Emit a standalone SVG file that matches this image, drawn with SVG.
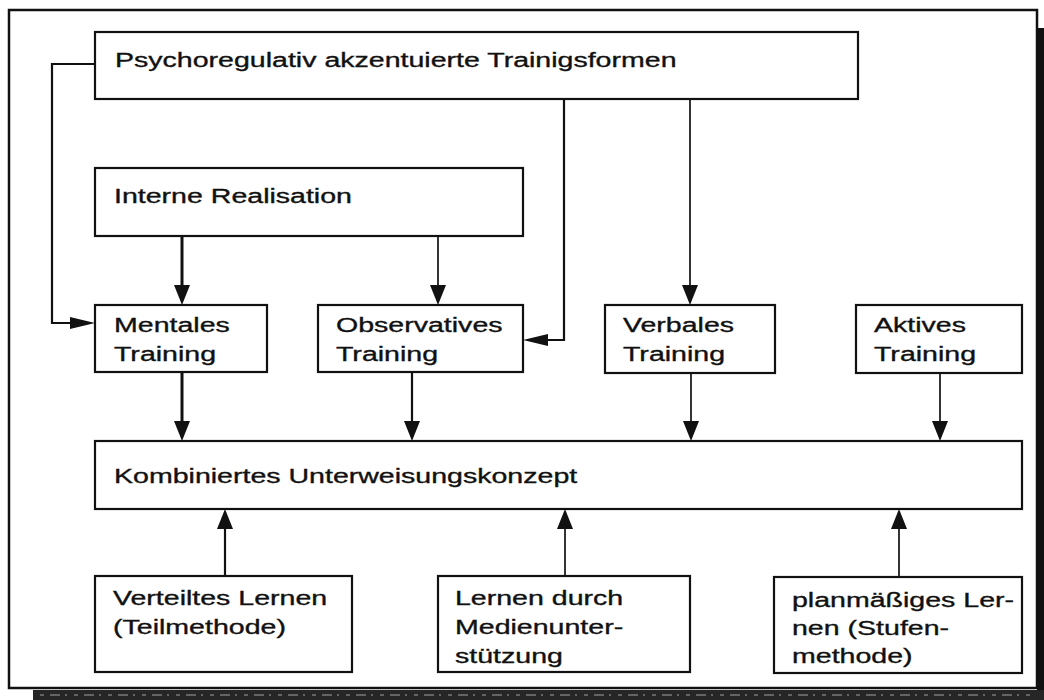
<svg xmlns="http://www.w3.org/2000/svg" width="1044" height="700" viewBox="0 0 1044 700">
  <style>
    .box { fill: #ffffff; stroke: #111111; stroke-width: 2.2; }
    .t { font-family: "Liberation Sans", Arial, Helvetica, sans-serif; font-size: 21px; fill: #111111; stroke: #111111; stroke-width: 0.35; }
    .c { fill: none; stroke: #111111; stroke-linejoin: miter; }
    .thin { stroke-width: 1.7; }
    .mid { stroke-width: 2.2; }
    .thick { stroke-width: 3; }
  </style>
  <defs>
    <!-- vertical arrowhead: 20 long, 16 wide, tip 10 past the line end -->
    <marker id="ah-v" markerUnits="userSpaceOnUse" viewBox="0 0 20 16" markerWidth="20" markerHeight="16" refX="10" refY="8" orient="auto">
      <path d="M0,0 L20,8 L0,16 Z" fill="#111111"/>
    </marker>
    <!-- horizontal arrowhead: 25 long, 12 wide, tip 12 past the line end -->
    <marker id="ah-h" markerUnits="userSpaceOnUse" viewBox="0 0 25 12" markerWidth="25" markerHeight="12" refX="13" refY="6" orient="auto">
      <path d="M0,0 L25,6 L0,12 Z" fill="#111111"/>
    </marker>
  </defs>

  <rect width="1044" height="700" fill="#ffffff"/>

  <!-- page frame with shadow edges -->
  <g id="frame">
    <rect x="9" y="10" width="1028" height="678" fill="none" stroke="#111111" stroke-width="2.5"/>
    <rect x="1037" y="28" width="7" height="672" fill="#111111"/>
    <rect x="33" y="690" width="1011" height="10" fill="#262626"/>
    <line x1="40" y1="695" x2="1030" y2="695" stroke="#7a7a7a" stroke-width="1.5" stroke-dasharray="4 6 10 5 2 7"/>
  </g>

  <!-- connectors -->
  <g id="connectors">
    <path class="c mid" d="M95,64 H52 V323 H83" marker-end="url(#ah-h)"/>
    <path class="c mid" d="M564,99 V340 H535" marker-end="url(#ah-h)"/>
    <path class="c thin" d="M690,99 V295" marker-end="url(#ah-v)"/>
    <path class="c thick" d="M182,236 V295" marker-end="url(#ah-v)"/>
    <path class="c thin" d="M438,236 V295" marker-end="url(#ah-v)"/>
    <path class="c thick" d="M182,372 V431" marker-end="url(#ah-v)"/>
    <path class="c mid" d="M412,372 V431" marker-end="url(#ah-v)"/>
    <path class="c thin" d="M691,373 V431" marker-end="url(#ah-v)"/>
    <path class="c thin" d="M940,373 V431" marker-end="url(#ah-v)"/>
    <path class="c mid" d="M225,576 V519" marker-end="url(#ah-v)"/>
    <path class="c thin" d="M565,576 V519" marker-end="url(#ah-v)"/>
    <path class="c thin" d="M899,576 V519" marker-end="url(#ah-v)"/>
  </g>

  <!-- labels use a horizontally widened face: scale(1.36 1) -->
  <g id="psychoregulativ">
    <rect class="box" x="95" y="32" width="763" height="67"/>
    <text class="t" transform="translate(115 67) scale(1.36 1)">Psychoregulativ akzentuierte Trainigsformen</text>
  </g>

  <g id="interne-realisation">
    <rect class="box" x="95" y="168" width="428" height="68"/>
    <text class="t" transform="translate(114 203) scale(1.36 1)">Interne Realisation</text>
  </g>

  <g id="mentales-training">
    <rect class="box" x="95" y="305" width="172" height="67"/>
    <text class="t" transform="translate(114 332) scale(1.36 1)">Mentales</text>
    <text class="t" transform="translate(114 361) scale(1.36 1)">Training</text>
  </g>

  <g id="observatives-training">
    <rect class="box" x="318" y="305" width="205" height="67"/>
    <text class="t" transform="translate(336 332) scale(1.36 1)">Observatives</text>
    <text class="t" transform="translate(336 361) scale(1.36 1)">Training</text>
  </g>

  <g id="verbales-training">
    <rect class="box" x="605" y="305" width="170" height="68"/>
    <text class="t" transform="translate(623 332) scale(1.36 1)">Verbales</text>
    <text class="t" transform="translate(623 361) scale(1.36 1)">Training</text>
  </g>

  <g id="aktives-training">
    <rect class="box" x="856" y="305" width="166" height="68"/>
    <text class="t" transform="translate(874 332) scale(1.36 1)">Aktives</text>
    <text class="t" transform="translate(874 361) scale(1.36 1)">Training</text>
  </g>

  <g id="kombiniertes-konzept">
    <rect class="box" x="95" y="441" width="927" height="68"/>
    <text class="t" transform="translate(114 483) scale(1.36 1)">Kombiniertes Unterweisungskonzept</text>
  </g>

  <g id="verteiltes-lernen">
    <rect class="box" x="95" y="576" width="257" height="96"/>
    <text class="t" transform="translate(113 605) scale(1.36 1)">Verteiltes Lernen</text>
    <text class="t" transform="translate(113 634) scale(1.36 1)">(Teilmethode)</text>
  </g>

  <g id="lernen-medien">
    <rect class="box" x="438" y="576" width="252" height="96"/>
    <text class="t" transform="translate(455 605) scale(1.36 1)">Lernen durch</text>
    <text class="t" transform="translate(455 634) scale(1.36 1)">Medienunter-</text>
    <text class="t" transform="translate(455 663) scale(1.36 1)">stützung</text>
  </g>

  <g id="planmaessiges-lernen">
    <rect class="box" x="774" y="577" width="248" height="96"/>
    <text class="t" transform="translate(792 607) scale(1.36 1)">planmäßiges Ler-</text>
    <text class="t" transform="translate(792 635) scale(1.36 1)">nen (Stufen-</text>
    <text class="t" transform="translate(792 663) scale(1.36 1)">methode)</text>
  </g>
</svg>
